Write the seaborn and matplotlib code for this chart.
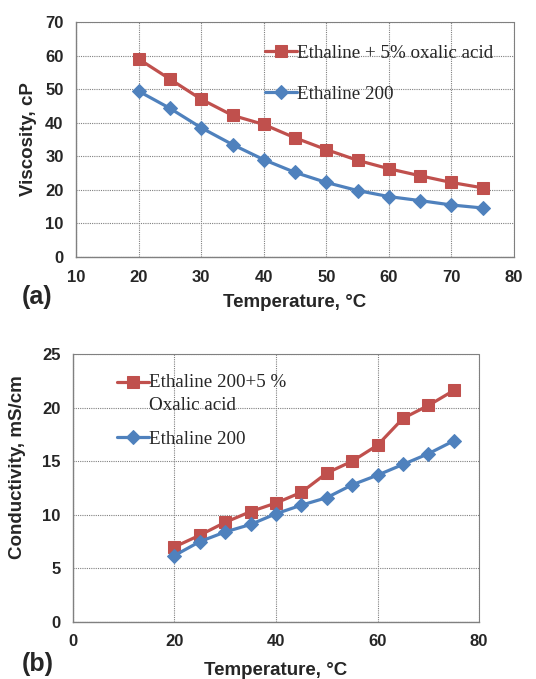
import pandas as pd
import seaborn as sns
import matplotlib.pyplot as plt

# data
temp = [20, 25, 30, 35, 40, 45, 50, 55, 60, 65, 70, 75]
visc_oxalic = [59.0, 53.0, 47.0, 42.2, 39.5, 35.5, 32.0, 28.8, 26.3, 24.2, 22.2, 20.6]
visc_ethaline = [49.4, 44.3, 38.5, 33.5, 29.0, 25.2, 22.2, 19.8, 18.0, 16.8, 15.5, 14.6]
cond_oxalic = [7.0, 8.1, 9.3, 10.3, 11.1, 12.1, 13.9, 15.0, 16.5, 19.0, 20.2, 21.6]
cond_ethaline = [6.2, 7.5, 8.4, 9.1, 10.1, 10.9, 11.6, 12.8, 13.7, 14.7, 15.7, 16.9]

red = '#C0504D'
blue = '#4F81BD'

sns.set_style('white')
plt.rcParams['font.family'] = ['Liberation Sans', 'DejaVu Sans']

fig = plt.figure(figsize=(5.36, 6.79), dpi=100)
ax1 = fig.add_axes([0.142, 0.6215, 0.817, 0.346])
ax2 = fig.add_axes([0.136, 0.084, 0.758, 0.3946])


def style_axes(ax, xlim, xticks, ylim, yticks):
    ax.set_xlim(*xlim)
    ax.set_ylim(*ylim)
    ax.set_xticks(xticks)
    ax.set_yticks(yticks)
    ax.grid(True, color='#808080', linestyle=(0, (1, 1)), linewidth=0.8)
    for s in ['left', 'bottom']:
        ax.spines[s].set_color('#808080')
        ax.spines[s].set_linewidth(1.0)
    for s in ['top', 'right']:
        ax.spines[s].set_color('#808080')
        ax.spines[s].set_linestyle((0, (1, 1)))
        ax.spines[s].set_linewidth(0.8)
    ax.tick_params(direction='out', length=4, color='#808080', labelsize=12, width=1, pad=5)
    for lab in ax.get_xticklabels() + ax.get_yticklabels():
        lab.set_fontweight('bold')


legend_font = {'family': 'Liberation Serif', 'size': 13.7}

# (a) viscosity
df_a = pd.DataFrame({'T': temp, 'oxalic': visc_oxalic, 'eth': visc_ethaline})
sns.lineplot(data=df_a, x='T', y='oxalic', ax=ax1, color=red, marker='s', markersize=8.5,
             linewidth=2.3, markeredgecolor=red, label='Ethaline + 5% oxalic acid')
sns.lineplot(data=df_a, x='T', y='eth', ax=ax1, color=blue, marker='D', markersize=7,
             linewidth=2.3, markeredgecolor=blue, label='Ethaline 200')
style_axes(ax1, (10, 80), range(10, 81, 10), (0, 70), range(0, 71, 10))
ax1.set_xlabel('Temperature, °C', fontsize=13.5, fontweight='bold', labelpad=7)
ax1.set_ylabel('Viscosity, cP', fontsize=13.5, fontweight='bold')
ax1.yaxis.set_label_coords(-0.09, 0.5)
ax1.legend(loc='upper left', bbox_to_anchor=(0.413, 0.936), frameon=False,
           prop=legend_font, handlelength=1.7, handletextpad=0.0, labelspacing=1.25,
           borderaxespad=0)
fig.text(0.04, 0.553, '(a)', fontsize=18, fontweight='bold')

# (b) conductivity
df_b = pd.DataFrame({'T': temp, 'oxalic': cond_oxalic, 'eth': cond_ethaline})
sns.lineplot(data=df_b, x='T', y='oxalic', ax=ax2, color=red, marker='s', markersize=8.5,
             linewidth=2.3, markeredgecolor=red, label='Ethaline 200+5 %\nOxalic acid')
sns.lineplot(data=df_b, x='T', y='eth', ax=ax2, color=blue, marker='D', markersize=7,
             linewidth=2.3, markeredgecolor=blue, label='Ethaline 200')
style_axes(ax2, (0, 80), range(0, 81, 20), (0, 25), range(0, 26, 5))
ax2.set_xlabel('Temperature, °C', fontsize=13.5, fontweight='bold', labelpad=9)
ax2.set_ylabel('Conductivity, mS/cm', fontsize=13.5, fontweight='bold')
ax2.yaxis.set_label_coords(-0.116, 0.578)
leg2 = ax2.legend(loc='upper left', bbox_to_anchor=(0.09, 0.955), frameon=False,
                  prop=legend_font, handlelength=1.7, handletextpad=0.0, labelspacing=0.9,
                  borderaxespad=0)
leg2.get_texts()[0].set_linespacing(1.45)
# the reference puts the handle level with the first line of the two-line label
leg2.legend_handles[0].set_transform(
    leg2.legend_handles[0].get_transform() + plt.matplotlib.transforms.ScaledTranslation(0, 11 / 100, fig.dpi_scale_trans))
fig.text(0.04, 0.012, '(b)', fontsize=18, fontweight='bold')

fig.savefig('out.png', dpi=100)
